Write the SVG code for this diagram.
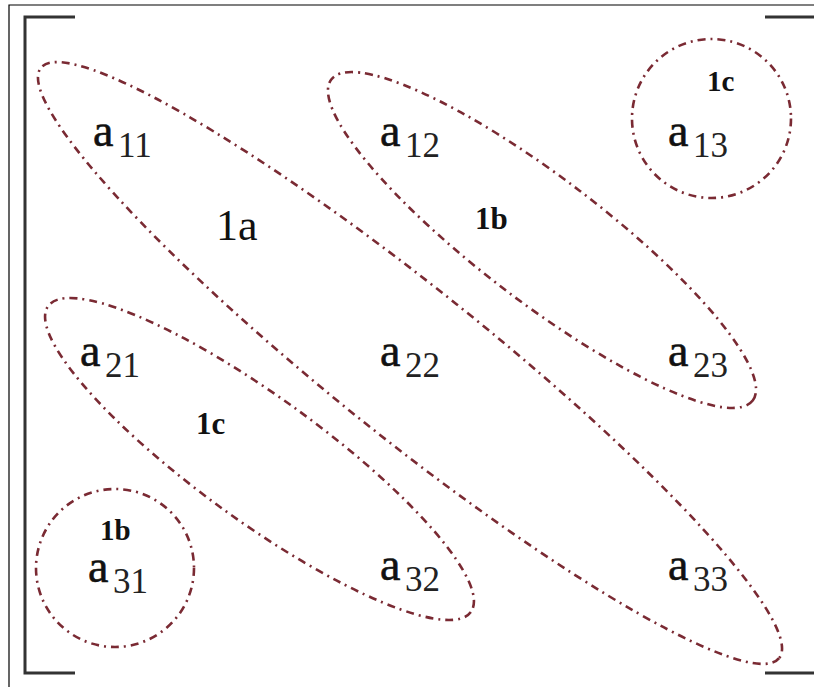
<svg xmlns="http://www.w3.org/2000/svg" width="814" height="687" viewBox="0 0 814 687">
<style>
.loop{fill:none;stroke:#7a2a33;stroke-width:2.6;stroke-dasharray:8 5 2 5;stroke-linecap:butt}
.br{fill:none;stroke:#333;stroke-width:3}
.frame{fill:none;stroke:#000;stroke-width:1.2}
.a{font-family:"Liberation Serif","Times New Roman",serif;font-size:46px;fill:#111;stroke:#111;stroke-width:0.6}
.s{font-family:"Liberation Serif","Times New Roman",serif;font-size:35px;fill:#222}
.lb{font-family:"Liberation Serif","Times New Roman",serif;font-weight:bold;fill:#111}
.big{font-family:"Liberation Serif","Times New Roman",serif;font-size:44px;fill:#111}
</style>
<rect width="814" height="687" fill="#fff"/>
<path class="frame" d="M9,687 V5 H814"/>
<g id="bracket-left"><path class="br" d="M75,17 H25 V673 H75"/></g>
<g id="bracket-right"><path class="br" d="M765,17 H814 M765,673 H814"/></g>
<g id="connectors">
<ellipse id="loop-1a" class="loop" cx="410" cy="363" rx="472.6" ry="75" transform="rotate(38.65 410 363)"/>
<ellipse id="loop-1b" class="loop" cx="542" cy="240" rx="264.9" ry="62" transform="rotate(37.3 542 240)"/>
<ellipse id="loop-1c" class="loop" cx="259.5" cy="459" rx="260.9" ry="62" transform="rotate(35.9 259.5 459)"/>
<circle id="loop-1c-top" class="loop" cx="711.5" cy="118.5" r="79.5"/>
<circle id="loop-1b-bottom" class="loop" cx="115" cy="568" r="79"/>
</g>
<g id="a11"><text class="a" x="93" y="146">a</text><text class="s" x="118" y="157">11</text></g>
<g id="a12"><text class="a" x="380" y="146">a</text><text class="s" x="405" y="157">12</text></g>
<g id="a13"><text class="a" x="668" y="146">a</text><text class="s" x="693" y="157">13</text></g>
<g id="a21"><text class="a" x="80" y="366">a</text><text class="s" x="105" y="377">21</text></g>
<g id="a22"><text class="a" x="380" y="366">a</text><text class="s" x="405" y="377">22</text></g>
<g id="a23"><text class="a" x="668" y="366">a</text><text class="s" x="693" y="377">23</text></g>
<g id="a31"><text class="a" x="88" y="582">a</text><text class="s" x="113" y="593">31</text></g>
<g id="a32"><text class="a" x="380" y="580">a</text><text class="s" x="405" y="591">32</text></g>
<g id="a33"><text class="a" x="668" y="580">a</text><text class="s" x="693" y="591">33</text></g>
<g id="label-1a"><text class="big" x="216" y="240">1a</text></g>
<g id="label-1b"><text class="lb" x="475" y="229" font-size="31">1b</text></g>
<g id="label-1c"><text class="lb" x="196" y="434" font-size="31">1c</text></g>
<g id="label-1c-top"><text class="lb" x="707" y="91" font-size="29">1c</text></g>
<g id="label-1b-bottom"><text class="lb" x="100" y="540" font-size="29">1b</text></g>
</svg>
